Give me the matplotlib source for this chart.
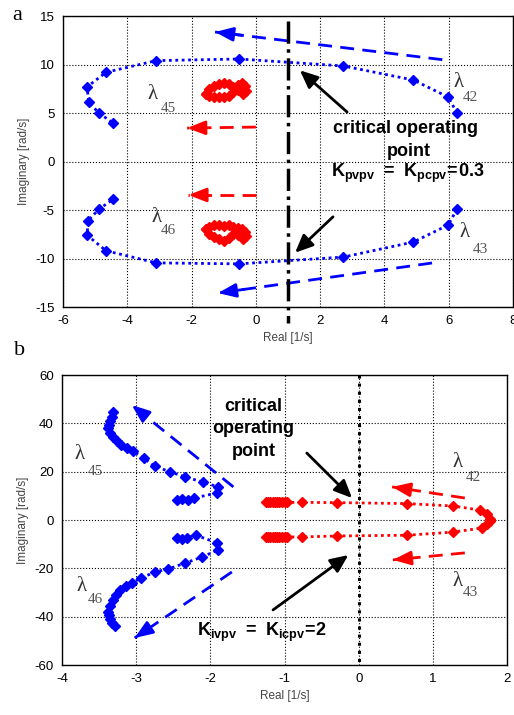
import numpy as np
import matplotlib.pyplot as plt

plt.rcParams['font.family'] = ['Liberation Sans', 'DejaVu Sans']
plt.rcParams['mathtext.fontset'] = 'custom'
plt.rcParams['mathtext.bf'] = 'Liberation Sans:bold'
plt.rcParams['mathtext.rm'] = 'Liberation Sans'
plt.rcParams['axes.unicode_minus'] = False

# ---- panel a data ----
a_blue_up_x = [6.26, 5.98, 4.9, 2.72, -0.52, -3.1, -4.66, -5.25, -5.2, -4.88, -4.44]
a_blue_up_y = [5.0, 6.65, 8.4, 9.85, 10.57, 10.4, 9.2, 7.7, 6.1, 5.0, 3.95]
a_blue_lo_x = [6.26, 5.98, 4.9, 2.72, -0.52, -3.1, -4.66, -5.25, -5.22, -4.88, -4.44]
a_blue_lo_y = [-4.9, -6.55, -8.3, -9.85, -10.55, -10.45, -9.2, -7.6, -6.1, -4.9, -3.9]
a_red_up_x = [-1.55, -1.45, -1.3, -1.15, -1.0, -0.85, -0.7, -0.55, -0.42, -0.33,
              -0.3, -0.4, -0.55, -0.7, -0.85, -1.0, -1.15, -1.3, -1.45, -1.55]
a_red_up_y = [7.0, 7.5, 7.8, 8.0, 8.1, 8.0, 7.7, 7.9, 8.1, 7.8,
              7.3, 7.0, 7.4, 7.2, 6.8, 6.6, 6.6, 6.7, 6.8, 7.0]
a_red_lo_x = [-1.55, -1.45, -1.3, -1.15, -1.0, -0.85, -0.7, -0.55, -0.42, -0.33,
              -0.3, -0.4, -0.55, -0.7, -0.85, -1.0, -1.15, -1.3, -1.45, -1.55]
a_red_lo_y = [-7.0, -6.7, -6.5, -6.5, -6.6, -6.5, -6.7, -6.9, -7.0, -7.3,
              -7.7, -8.0, -7.6, -7.5, -7.9, -8.2, -8.0, -7.8, -7.5, -7.0]

# ---- panel b data ----
b_blue_up_x = [-2.45, -2.38, -2.3, -2.22, -1.91, -1.9, -2.1, -2.34, -2.54, -2.75, -2.9,
               -3.04, -3.12, -3.2, -3.26, -3.31, -3.35, -3.38, -3.37, -3.35, -3.33, -3.31]
b_blue_up_y = [8.2, 8.6, 8.2, 9.1, 11.2, 13.7, 15.7, 17.8, 19.9, 22.3, 25.6,
               28.5, 29.8, 31.0, 32.5, 34.4, 36.0, 38.0, 39.5, 40.8, 42.5, 44.7]
b_blue_lo_x = [-2.45, -2.38, -2.31, -2.2, -1.91, -1.9, -2.11, -2.34, -2.57, -2.75, -2.93,
               -3.06, -3.14, -3.22, -3.27, -3.31, -3.35, -3.38, -3.37, -3.35, -3.33, -3.29]
b_blue_lo_y = [-7.4, -7.8, -7.4, -6.2, -9.5, -12.4, -15.3, -17.8, -20.3, -21.5, -24.0,
               -26.0, -27.5, -29.0, -31.0, -33.0, -35.5, -38.0, -39.5, -41.0, -42.5, -44.0]
b_red_up_x = [-1.25, -1.22, -1.19, -1.16, -1.13, -1.1, -1.07, -1.03, -1.0, -0.97,
              -0.76, -0.29, 0.65, 1.27, 1.64, 1.73, 1.77]
b_red_up_y = [7.3, 7.3, 7.3, 7.3, 7.3, 7.3, 7.3, 7.3, 7.3, 7.3,
              7.3, 7.2, 6.8, 5.8, 4.1, 2.3, 0.6]
b_red_lo_x = [-1.25, -1.22, -1.19, -1.16, -1.13, -1.1, -1.07, -1.03, -1.0, -0.97,
              -0.76, -0.29, 0.65, 1.27, 1.66, 1.73, 1.77]
b_red_lo_y = [-7.0, -7.0, -7.0, -7.0, -7.0, -7.0, -7.0, -7.0, -7.0, -7.0,
              -7.0, -6.6, -6.3, -5.0, -3.3, -1.8, -0.5]

# arrows: [x_start, y_start, x_end, y_end]
a_dash_arrows = [([5.8, 10.5, -1.27, 13.35], 'blue'), ([0.0, 3.55, -2.14, 3.45], 'red'),
                 ([0.0, -3.45, -2.1, -3.45], 'red'), ([5.48, -10.46, -1.18, -13.56], 'blue')]
a_black_arrows = [[2.84, 5.1, 1.37, 9.4], [2.4, -5.7, 1.22, -9.4]]
b_dash_arrows = [([-1.69, 13.7, -3.06, 47.6], 'blue'), ([-1.71, -21.5, -3.02, -48.8], 'blue'),
                 ([1.43, 9.1, 0.45, 13.7], 'red'), ([1.43, -13.6, 0.46, -16.5], 'red')]
b_black_arrows = [[-0.7, 27.7, -0.09, 9.1], [-1.155, -37.2, -0.14, -14.5]]

# lambda labels: (name, x, y, sub_x, sub_y)
a_lambdas = [('42', 6.3, 8.1, 6.66, 6.65), ('45', -3.2, 6.86, -2.73, 5.5),
             ('46', -3.08, -5.8, -2.73, -7.07), ('43', 6.5, -7.3, 6.97, -9.1)]
b_lambdas = [('42', 1.33, 23.6, 1.54, 17.8), ('45', -3.76, 27.0, -3.55, 20.0),
             ('46', -3.73, -27.7, -3.55, -33.0), ('43', 1.33, -25.6, 1.5, -29.8)]

BLUE = '#0000ff'
RED = '#ff0000'
MK = dict(marker='D', markersize=5.5, linestyle=(0, (1, 1.3)), linewidth=2)
TXT = 13


def dash_arrow(ax, pts, color):
    x0, y0, x1, y1 = pts
    ax.plot([x0, x1], [y0, y1], color=color, lw=2, dashes=(5, 3))
    ax.annotate('', xy=(x1, y1), xytext=(x1 + 0.12 * (x0 - x1), y1 + 0.12 * (y0 - y1)),
                arrowprops=dict(arrowstyle='-|>,head_length=0.9,head_width=0.35', color=color,
                                lw=2, shrinkA=0, shrinkB=0, mutation_scale=12))


def black_arrow(ax, pts):
    x0, y0, x1, y1 = pts
    ax.annotate('', xy=(x1, y1), xytext=(x0, y0),
                arrowprops=dict(arrowstyle='-|>,head_length=0.9,head_width=0.4', color='k',
                                lw=2, shrinkA=0, shrinkB=0, mutation_scale=12))


def lam(ax, items):
    for sub, x, y, sx, sy in items:
        ax.text(x, y, 'λ', family='Liberation Serif', fontsize=15, color='#333333',
                ha='center', va='center')
        ax.text(sx, sy, sub, family='Liberation Serif', fontsize=11, color='#555555',
                ha='center', va='center')


def style(ax):
    ax.grid(True, color='k', linestyle=':', linewidth=0.8)
    ax.tick_params(direction='in', length=0, labelsize=9.5, pad=6)
    for s in ax.spines.values():
        s.set_linewidth(1.0)
    ax.set_xlabel('Real [1/s]', fontsize=8.5, color='#444444', labelpad=3)
    ax.set_ylabel('Imaginary [rad/s]', fontsize=8.5, color='#444444', labelpad=4)


fig = plt.figure(figsize=(5.14, 7.15), dpi=100)

# ---- panel a ----
ax1 = fig.add_axes([0.1226, 0.5706, 0.8755, 0.407])
ax1.set_xlim(-6, 8)
ax1.set_ylim(-15, 15)
ax1.set_xticks(np.arange(-6, 9, 2))
ax1.set_yticks(np.arange(-15, 16, 5))
style(ax1)
ax1.plot(a_blue_up_x, a_blue_up_y, color=BLUE, **MK)
ax1.plot(a_blue_lo_x, a_blue_lo_y, color=BLUE, **MK)
ax1.plot(a_red_up_x, a_red_up_y, color=RED, **MK)
ax1.plot(a_red_lo_x, a_red_lo_y, color=RED, **MK)
ax1.plot([1, 1], [14.5, -16.6], 'k-.', lw=2.5, clip_on=False, zorder=5)
for pts, c in a_dash_arrows:
    dash_arrow(ax1, pts, BLUE if c == 'blue' else RED)
for pts in a_black_arrows:
    black_arrow(ax1, pts)
lam(ax1, a_lambdas)
ax1.text(4.64, 3.45, 'critical operating', fontsize=TXT, fontweight='bold', ha='center', va='center')
ax1.text(4.77, 1.0, 'point', fontsize=TXT, fontweight='bold', ha='center', va='center')
ax1.text(4.73, -1.2, r'$\mathbf{K_{pvpv}\ =\ K_{pcpv}\!=\!0.3}$', fontsize=TXT,
         ha='center', va='center')

# ---- panel b ----
ax2 = fig.add_axes([0.1206, 0.0699, 0.866, 0.4056])
ax2.set_xlim(-4, 2)
ax2.set_ylim(-60, 60)
ax2.set_xticks(np.arange(-4, 3, 1))
ax2.set_yticks(np.arange(-60, 61, 20))
style(ax2)
ax2.plot(b_blue_up_x, b_blue_up_y, color=BLUE, **MK)
ax2.plot(b_blue_lo_x, b_blue_lo_y, color=BLUE, **MK)
ax2.plot(b_red_up_x, b_red_up_y, color=RED, **MK)
ax2.plot(b_red_lo_x, b_red_lo_y, color=RED, **MK)
ax2.plot([0, 0], [60, -60], 'k:', lw=2.2, zorder=5)
for pts, c in b_dash_arrows:
    dash_arrow(ax2, pts, BLUE if c == 'blue' else RED)
for pts in b_black_arrows:
    black_arrow(ax2, pts)
lam(ax2, b_lambdas)
ax2.text(-1.42, 46.8, 'critical', fontsize=TXT, fontweight='bold', ha='center', va='center')
ax2.text(-1.42, 38.0, 'operating', fontsize=TXT, fontweight='bold', ha='center', va='center')
ax2.text(-1.42, 28.5, 'point', fontsize=TXT, fontweight='bold', ha='center', va='center')
ax2.text(-1.3, -46.7, r'$\mathbf{K_{ivpv}\ =\ K_{icpv}\!=\!2}$', fontsize=TXT,
         ha='center', va='center')

fig.text(17 / 514, 1 - 15 / 715, 'a', family='Liberation Serif', fontsize=16, ha='center', va='center')
fig.text(20 / 514, 1 - 350 / 715, 'b', family='Liberation Serif', fontsize=16, ha='center', va='center')

fig.savefig('out.png', dpi=100)
